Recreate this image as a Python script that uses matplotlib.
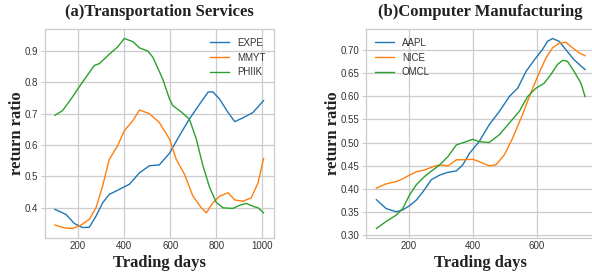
import matplotlib
matplotlib.use("Agg")
import matplotlib.pyplot as plt

# ---- (a) Transportation Services ----
expe_x = [100, 148, 184, 220, 249, 278, 307, 336, 380, 423, 467, 510, 553, 597, 640, 683, 727, 764, 785, 814, 851, 880, 916, 959, 1005]
expe_y = [0.395, 0.379, 0.350, 0.337, 0.338, 0.373, 0.416, 0.443, 0.459, 0.475, 0.512, 0.534, 0.537, 0.574, 0.630, 0.683, 0.730, 0.769, 0.770, 0.747, 0.704, 0.675, 0.687, 0.704, 0.742]

mmyt_x = [100, 141, 177, 213, 249, 278, 307, 336, 372, 401, 438, 467, 510, 553, 597, 626, 662, 698, 735, 757, 785, 814, 851, 880, 916, 952, 981, 1005]
mmyt_y = [0.345, 0.336, 0.334, 0.345, 0.363, 0.400, 0.470, 0.555, 0.598, 0.646, 0.678, 0.712, 0.700, 0.672, 0.619, 0.555, 0.507, 0.438, 0.400, 0.384, 0.416, 0.437, 0.448, 0.425, 0.421, 0.432, 0.480, 0.557]

phiik_x = [100, 133, 170, 200, 235, 271, 293, 336, 372, 401, 438, 467, 503, 525, 568, 597, 611, 646, 683, 713, 742, 771, 800, 829, 872, 901, 930, 959, 981, 1005]
phiik_y = [0.695, 0.710, 0.747, 0.780, 0.817, 0.854, 0.860, 0.890, 0.913, 0.940, 0.930, 0.910, 0.900, 0.880, 0.810, 0.747, 0.726, 0.707, 0.683, 0.620, 0.534, 0.465, 0.417, 0.400, 0.398, 0.408, 0.414, 0.405, 0.400, 0.384]

# ---- (b) Computer Manufacturing ----
aapl_x = [100, 130, 162, 182, 203, 224, 245, 271, 297, 323, 349, 369, 390, 420, 451, 483, 514, 540, 566, 592, 617, 633, 649, 669, 690, 716, 750]
aapl_y = [0.377, 0.358, 0.351, 0.355, 0.364, 0.376, 0.394, 0.420, 0.430, 0.436, 0.439, 0.452, 0.477, 0.502, 0.538, 0.567, 0.599, 0.617, 0.653, 0.678, 0.700, 0.718, 0.724, 0.718, 0.700, 0.678, 0.657]

nice_x = [100, 130, 162, 182, 203, 224, 250, 276, 297, 323, 349, 369, 400, 420, 451, 472, 498, 524, 555, 581, 602, 628, 649, 669, 690, 711, 732, 750]
nice_y = [0.402, 0.411, 0.416, 0.422, 0.430, 0.437, 0.441, 0.448, 0.452, 0.450, 0.463, 0.463, 0.464, 0.459, 0.450, 0.452, 0.473, 0.509, 0.560, 0.607, 0.642, 0.682, 0.704, 0.714, 0.716, 0.704, 0.693, 0.687]

omcl_x = [100, 130, 162, 182, 203, 224, 250, 276, 297, 323, 349, 380, 400, 420, 451, 483, 514, 545, 571, 597, 623, 643, 664, 680, 695, 716, 737, 750]
omcl_y = [0.315, 0.330, 0.344, 0.358, 0.387, 0.409, 0.427, 0.441, 0.452, 0.470, 0.495, 0.502, 0.507, 0.502, 0.500, 0.517, 0.542, 0.567, 0.599, 0.617, 0.628, 0.646, 0.668, 0.677, 0.675, 0.653, 0.628, 0.599]

titles = ["(a)Transportation Services", "(b)Computer Manufacturing"]
xlabel = "Trading days"
ylabel = "return ratio"

colors = ["#1f77b4", "#ff7f0e", "#2ca02c"]

plt.rcParams["font.family"] = ["Liberation Sans", "DejaVu Sans"]

fig = plt.figure(figsize=(5.92, 2.76), dpi=100)
ax1 = fig.add_axes([44.5 / 592, 38 / 276, 229.5 / 592, 209 / 276])
ax2 = fig.add_axes([366 / 592, 38 / 276, 229.5 / 592, 209 / 276])

panels = [
    (ax1, [(expe_x, expe_y, "EXPE"), (mmyt_x, mmyt_y, "MMYT"), (phiik_x, phiik_y, "PHIIK")], titles[0], "upper right"),
    (ax2, [(aapl_x, aapl_y, "AAPL"), (nice_x, nice_y, "NICE"), (omcl_x, omcl_y, "OMCL")], titles[1], "upper left"),
]

for ax, series, title, loc in panels:
    for (xs, ys, name), c in zip(series, colors):
        ax.plot(xs, ys, color=c, lw=1.0, label=name)
    ax.set_facecolor("white")
    ax.grid(True, color="#cccccc", lw=0.9)
    ax.set_axisbelow(True)
    for s in ax.spines.values():
        s.set_color("#cccccc")
        s.set_linewidth(0.9)
    ax.tick_params(axis="y", labelsize=7, colors="#cccccc", labelcolor="#333333", length=3, width=0.8, pad=1.5)
    ax.tick_params(axis="x", labelsize=7, labelcolor="#333333", length=0, pad=2)
    ax.set_title(title, fontsize=12, fontweight="bold", family="Liberation Serif", pad=9, color="#222222")
    ax.set_xlabel(xlabel, fontsize=12, fontweight="bold", family="Liberation Serif", color="#222222", labelpad=3)
    ax.set_ylabel(ylabel, fontsize=12, fontweight="bold", family="Liberation Serif", color="#222222", labelpad=0)
    leg = ax.legend(loc=loc, fontsize=7, frameon=False)
    for t in leg.get_texts():
        t.set_color("#333333")

ax1.set_xticks([200, 400, 600, 800, 1000])
ax1.set_yticks([0.4, 0.5, 0.6, 0.7, 0.8, 0.9])
ax2.set_xticks([200, 400, 600])
ax2.set_yticks([0.30, 0.35, 0.40, 0.45, 0.50, 0.55, 0.60, 0.65, 0.70])
ax2.set_yticklabels(["0.30", "0.35", "0.40", "0.45", "0.50", "0.55", "0.60", "0.65", "0.70"])

fig.savefig("out.png", dpi=100)
